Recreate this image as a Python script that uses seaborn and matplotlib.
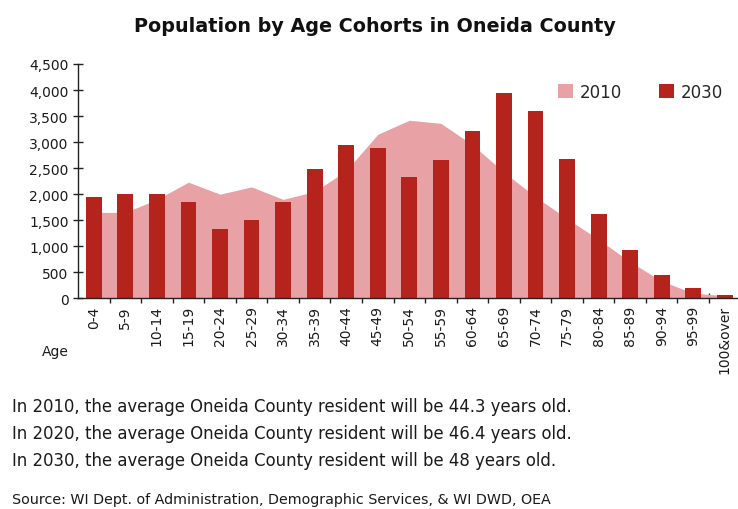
import numpy as np
import pandas as pd
import matplotlib
matplotlib.use("Agg")
import matplotlib.pyplot as plt
from matplotlib.ticker import FuncFormatter, FixedLocator
from matplotlib.patches import Patch
import seaborn as sns

# Age cohorts and population counts
age_groups = ["0-4", "5-9", "10-14", "15-19", "20-24", "25-29", "30-34",
              "35-39", "40-44", "45-49", "50-54", "55-59", "60-64", "65-69",
              "70-74", "75-79", "80-84", "85-89", "90-94", "95-99", "100&over"]
pop_2010 = [1650, 1650, 1900, 2230, 2000, 2140, 1900, 2050, 2450, 3150, 3420,
            3360, 2950, 2420, 1950, 1530, 1130, 700, 330, 100, 50]
pop_2030 = [1950, 2010, 2010, 1840, 1330, 1500, 1840, 2480, 2940, 2880, 2330,
            2660, 3210, 3940, 3600, 2670, 1610, 930, 440, 200, 70]
y_ticks = [0, 500, 1000, 1500, 2000, 2500, 3000, 3500, 4000, 4500]

notes = [
    "In 2010, the average Oneida County resident will be 44.3 years old.",
    "In 2020, the average Oneida County resident will be 46.4 years old.",
    "In 2030, the average Oneida County resident will be 48 years old.",
]
source = "Source: WI Dept. of Administration, Demographic Services, & WI DWD, OEA"

color_2010 = "#E8A2A5"
color_2030 = "#B4241C"

sns.set_theme(style="white")
plt.rcParams["font.family"] = ["DejaVu Sans"]

df = pd.DataFrame({"age": age_groups, "p2010": pop_2010, "p2030": pop_2030})

fig = plt.figure(figsize=(7.38, 5.10), dpi=100)
ax = fig.add_axes([78 / 738, 1 - 299.3 / 510, 662.6 / 738, (299.3 - 65) / 510])

# 2010 as a filled area behind the 2030 bars
xs = np.arange(len(age_groups))
ax.fill_between(xs, 0, df["p2010"], color=color_2010, linewidth=0, zorder=1)

sns.barplot(data=df, x="age", y="p2030", color=color_2030, width=0.5,
            saturation=1, linewidth=0, ax=ax, zorder=2)
for p in ax.patches:
    p.set_zorder(2)
    p.set_linewidth(0)

ax.set_xlim(-0.5, len(age_groups) - 0.5)
ax.set_ylim(0, 4500)
ax.set_yticks(y_ticks)
ax.yaxis.set_major_formatter(FuncFormatter(lambda v, _: f"{int(v):,}"))
ax.set_xticks(xs)
ax.set_xticklabels(age_groups, rotation=90)
ax.xaxis.set_minor_locator(FixedLocator(np.arange(0.5, len(age_groups) - 1, 1.0)))
ax.set_xlabel("")
ax.set_ylabel("")

for s in ["top", "right"]:
    ax.spines[s].set_visible(False)
for s in ["left", "bottom"]:
    ax.spines[s].set_color("#222222")
    ax.spines[s].set_linewidth(1.0)

ax.tick_params(axis="y", which="major", direction="inout", length=7.5, width=1,
               color="#222222", labelsize=10, labelcolor="#1a1a1a", pad=3,
               left=True)
ax.tick_params(axis="x", which="major", length=0, labelsize=10,
               labelcolor="#1a1a1a", pad=5)
ax.tick_params(axis="x", which="minor", direction="inout", length=7.5, width=1,
               color="#222222", bottom=True)

fig.text(375 / 738, 1 - 27 / 510, "Population by Age Cohorts in Oneida County",
         ha="center", va="center", fontsize=13.8, fontweight="bold", color="#111111")
fig.text(55 / 738, 1 - 352 / 510, "Age", ha="center", va="center",
         fontsize=10, color="#1a1a1a")

handles = [Patch(facecolor=color_2010, edgecolor="none", label="2010"),
           Patch(facecolor=color_2030, edgecolor="none", label="2030")]
ax.legend(handles=handles, loc="upper left", bbox_to_anchor=(558 / 738, 1 - 84 / 510),
          bbox_transform=fig.transFigure, ncol=2, frameon=False, fontsize=12,
          handlelength=0.9, handleheight=0.9, handletextpad=0.4,
          columnspacing=2.2, borderaxespad=0, borderpad=0)

for i, line in enumerate(notes):
    fig.text(12 / 738, 1 - (407 + 27 * i) / 510, line, ha="left", va="center",
             fontsize=11.9, color="#1a1a1a")
fig.text(12 / 738, 1 - 500 / 510, source, ha="left", va="center",
         fontsize=10.3, color="#1a1a1a")

fig.savefig("out.png", dpi=100)
